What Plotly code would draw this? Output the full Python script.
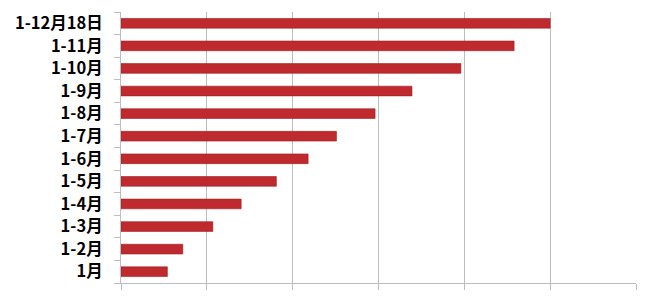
import plotly.graph_objects as go

categories = ["1月", "1-2月", "1-3月", "1-4月", "1-5月", "1-6月", "1-7月",
              "1-8月", "1-9月", "1-10月", "1-11月", "1-12月18日"]
values = [0.54, 0.72, 1.07, 1.40, 1.81, 2.18, 2.51, 2.96, 3.39, 3.96, 4.58, 5.0]
x_ticks = [0, 1, 2, 3, 4, 5, 6]

fig = go.Figure()
fig.add_trace(go.Bar(
    y=categories, x=values, orientation="h",
    marker=dict(color="#BF2A2F", line=dict(color="#9A1E22", width=0.6)),
    hoverinfo="x+y",
))

fig.update_layout(
    width=672, height=306,
    margin=dict(l=121, r=36, t=10, b=23),
    paper_bgcolor="white", plot_bgcolor="white",
    bargap=0.57,
    showlegend=False,
    font=dict(family="Noto Sans CJK SC", color="black"),
)
fig.update_xaxes(
    range=[0, 6], tickvals=x_ticks, showticklabels=False,
    showgrid=True, gridcolor="#BDBDBD", gridwidth=1,
    showline=True, linecolor="#BDBDBD", linewidth=1,
    ticks="outside", ticklen=6, tickcolor="#BDBDBD",
    zeroline=False,
)
fig.update_yaxes(
    categoryorder="array", categoryarray=categories,
    tickson="boundaries", ticks="outside", ticklen=6, tickcolor="#BDBDBD",
    showline=True, linecolor="#BDBDBD", linewidth=1,
    showgrid=False,
    tickfont=dict(family="Noto Sans CJK SC", size=16.5, color="black", weight="bold"),
    ticklabelstandoff=14,
)

fig.write_html("out.html")
